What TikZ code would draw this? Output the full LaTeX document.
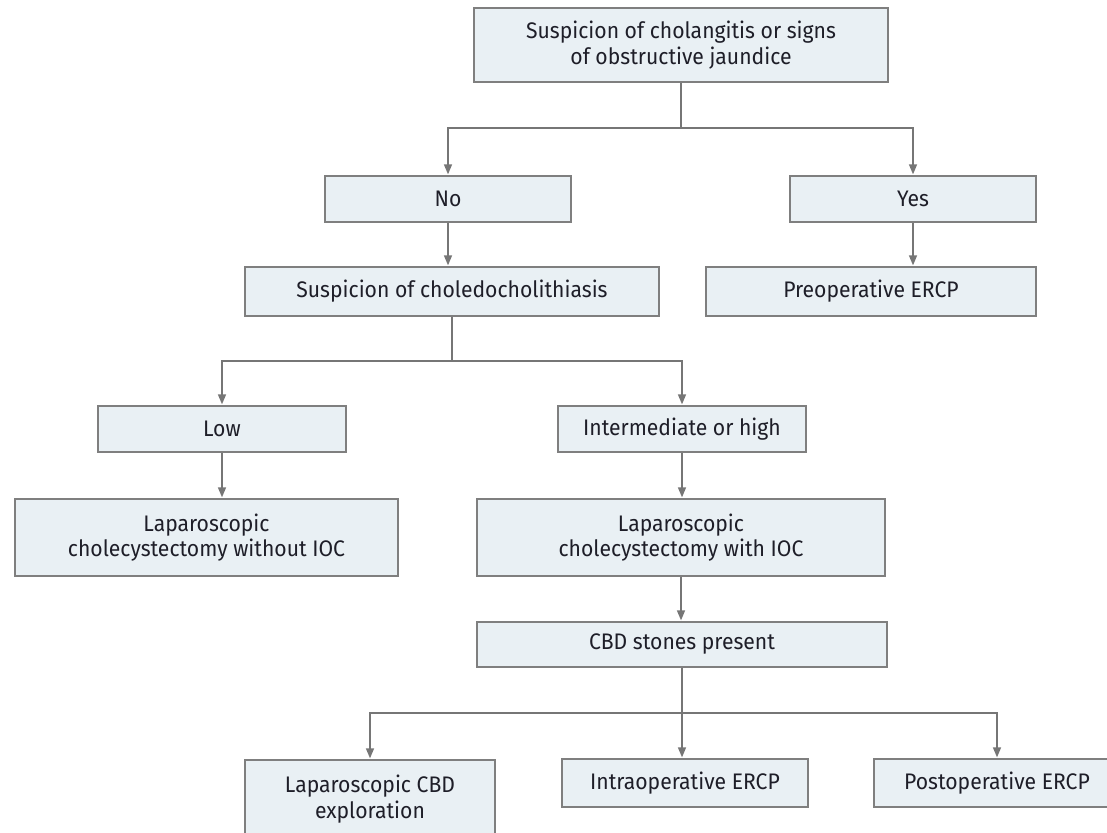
\documentclass[tikz,border=0pt]{standalone}
\usepackage{fontspec}
\setmainfont[FakeStretch=0.94]{Fira Sans}
\usetikzlibrary{arrows.meta}
\definecolor{boxfill}{HTML}{E9F0F4}
\definecolor{boxline}{HTML}{7F7F7F}
\definecolor{linecol}{HTML}{767676}
\definecolor{txt}{HTML}{1E1E28}
\tikzset{
  fbox/.style={draw=boxline, fill=boxfill, line width=1.3pt, inner sep=0pt,
    align=center, text=txt, font=\fontsize{22.5}{25.5}\selectfont},
  conn/.style={draw=linecol, line width=1.5pt},
  arr/.style={conn, -{Triangle[length=10pt,width=8pt]}, shorten >=1pt}
}
\begin{document}
\begin{tikzpicture}[x=1pt,y=-1pt]
\useasboundingbox (0,0) rectangle (1107,832);
\node[fbox, minimum width=414pt, minimum height=74pt] (top) at (681,45) {Suspicion of cholangitis or signs\\of obstructive jaundice};
\node[fbox, minimum width=246pt, minimum height=46pt] (no) at (448,199) {No};
\node[fbox, minimum width=246pt, minimum height=46pt] (yes) at (913,199) {Yes};
\node[fbox, minimum width=414pt, minimum height=49pt] (chol) at (452,291.5) {Suspicion of choledocholithiasis};
\node[fbox, minimum width=330pt, minimum height=49pt] (preop) at (871,291.5) {Preoperative ERCP};
\node[fbox, minimum width=248pt, minimum height=46pt] (low) at (222,429) {Low};
\node[fbox, minimum width=248pt, minimum height=46pt] (inter) at (682,429) {Intermediate or high};
\node[fbox, minimum width=383pt, minimum height=77pt] (lapno) at (206.5,537.5) {Laparoscopic\\cholecystectomy without IOC};
\node[fbox, minimum width=408pt, minimum height=77pt] (lapioc) at (681,537.5) {Laparoscopic\\cholecystectomy with IOC};
\node[fbox, minimum width=410pt, minimum height=45pt] (cbd) at (682,644.5) {CBD stones present};
\node[fbox, minimum width=250pt, minimum height=78pt] (lapcbd) at (370,799) {Laparoscopic CBD\\exploration};
\node[fbox, minimum width=246pt, minimum height=48pt] (intra) at (685,783) {Intraoperative ERCP};
\node[fbox, minimum width=246pt, minimum height=48pt] (post) at (997,783) {Postoperative ERCP};
% junctions
\coordinate (j1) at (top.south |- {(0,128)});
\coordinate (j2) at (chol.south |- {(0,361)});
\coordinate (j3) at (cbd.south |- {(0,713)});
\draw[conn] (top.south) -- (j1);
\draw[arr] (j1) -| (no.north);
\draw[arr] (j1) -| (yes.north);
\draw[arr] (no.south) -- (no.south |- chol.north);
\draw[arr] (yes.south) -- (yes.south |- preop.north);
\draw[conn] (chol.south) -- (j2);
\draw[arr] (j2) -| (low.north);
\draw[arr] (j2) -| (inter.north);
\draw[arr] (low.south) -- (low.south |- lapno.north);
\draw[arr] (inter.south) -- (inter.south |- lapioc.north);
\draw[arr] (lapioc.south) -- (lapioc.south |- cbd.north);
\draw[conn] (cbd.south) -- (j3);
\draw[arr] (j3) -| (lapcbd.north);
\draw[arr] (j3) -- (j3 |- intra.north);
\draw[arr] (j3) -| (post.north);
\end{tikzpicture}
\end{document}
